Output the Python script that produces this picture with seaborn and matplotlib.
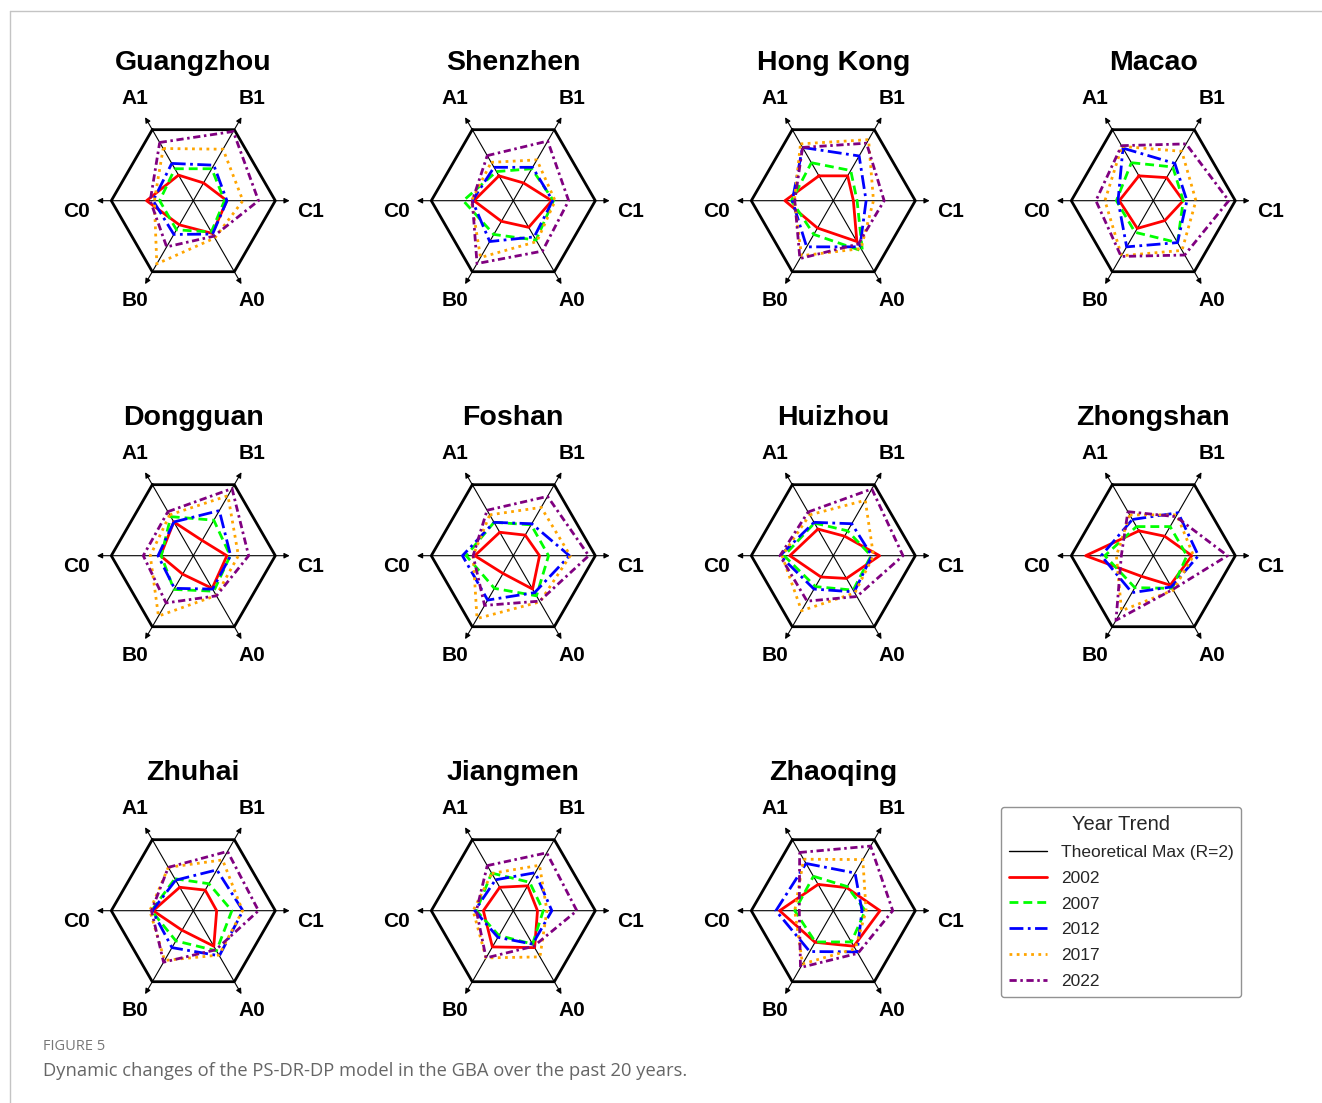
import numpy as np
import pandas as pd
import matplotlib
matplotlib.use("Agg")
import matplotlib.pyplot as plt
from matplotlib.lines import Line2D
import seaborn as sns

# ---- data -------------------------------------------------------------
categories = ["A1", "B1", "C1", "A0", "B0", "C0"]
angles_deg = [120, 60, 0, -60, -120, 180]
years = ["2002", "2007", "2012", "2017", "2022"]
R_MAX = 2.0

cities = ["Guangzhou", "Shenzhen", "Hong Kong", "Macao",
          "Dongguan", "Foshan", "Huizhou", "Zhongshan",
          "Zhuhai", "Jiangmen", "Zhaoqing"]

# rows: 2002, 2007, 2012, 2017, 2022 ; columns: A1, B1, C1, A0, B0, C0
guangzhou = [[0.72, 0.50, 0.82, 0.92, 0.68, 1.14],
             [0.90, 0.90, 0.76, 0.88, 0.82, 0.82],
             [1.05, 1.00, 0.82, 0.94, 0.95, 0.98],
             [1.47, 1.45, 1.21, 1.05, 1.78, 0.95],
             [1.64, 1.95, 1.59, 1.00, 1.30, 1.05]]
shenzhen = [[0.70, 0.50, 0.94, 0.75, 0.58, 0.96],
            [0.82, 0.90, 0.98, 1.11, 0.95, 1.22],
            [0.94, 0.94, 0.96, 1.02, 1.15, 1.00],
            [1.08, 1.15, 1.02, 1.15, 1.60, 1.02],
            [1.27, 1.68, 1.35, 1.42, 1.77, 1.00]]
hong_kong = [[0.70, 0.70, 0.49, 1.15, 0.77, 1.18],
             [1.07, 0.85, 0.58, 1.42, 0.95, 1.02],
             [1.50, 1.26, 0.80, 1.30, 1.30, 1.00],
             [1.60, 1.72, 0.98, 1.35, 1.55, 0.95],
             [1.50, 1.62, 1.24, 1.22, 1.63, 0.94]]
macao = [[0.70, 0.65, 0.73, 0.56, 0.78, 0.83],
         [1.07, 0.95, 0.73, 1.18, 0.89, 0.90],
         [1.48, 1.05, 0.82, 1.18, 1.30, 0.86],
         [1.53, 1.39, 1.04, 1.40, 1.55, 1.18],
         [1.55, 1.60, 1.84, 1.53, 1.57, 1.40]]
dongguan = [[0.95, 0.43, 0.82, 0.92, 0.52, 0.80],
            [1.10, 1.00, 0.90, 1.00, 0.95, 0.78],
            [0.95, 1.27, 0.91, 0.94, 0.92, 0.86],
            [1.15, 1.69, 1.10, 1.12, 1.70, 1.05],
            [1.24, 1.89, 1.35, 1.13, 1.33, 1.22]]
foshan = [[0.66, 0.58, 0.64, 0.94, 0.50, 0.94],
          [0.94, 0.87, 0.86, 1.13, 0.92, 1.15],
          [0.94, 0.90, 1.37, 1.04, 1.25, 1.24],
          [1.15, 1.36, 1.39, 1.30, 1.77, 0.98],
          [1.28, 1.67, 1.84, 1.28, 1.40, 0.98]]
huizhou = [[0.75, 0.55, 1.13, 0.64, 0.60, 1.06],
           [0.92, 0.70, 0.92, 0.97, 0.87, 1.20],
           [0.94, 0.90, 0.94, 1.02, 0.94, 1.30],
           [1.15, 1.56, 0.98, 1.05, 1.55, 1.25],
           [1.23, 1.88, 1.70, 1.15, 1.28, 1.30]]
zhongshan = [[0.70, 0.55, 0.94, 0.83, 0.58, 1.65],
             [0.82, 0.82, 0.82, 0.92, 0.90, 1.18],
             [1.02, 1.21, 1.10, 0.88, 1.04, 1.27],
             [1.15, 1.15, 0.98, 0.97, 1.55, 0.90],
             [1.24, 1.10, 1.81, 0.95, 1.82, 0.78]]
zhuhai = [[0.66, 0.58, 0.57, 1.00, 0.55, 0.98],
          [0.90, 0.76, 0.94, 1.13, 0.85, 1.02],
          [0.86, 1.15, 1.21, 1.27, 1.04, 1.00],
          [1.22, 1.43, 1.20, 1.25, 1.40, 1.06],
          [1.22, 1.67, 1.59, 1.10, 1.45, 1.02]]
jiangmen = [[0.66, 0.70, 0.59, 1.04, 1.02, 0.73],
            [1.06, 0.80, 0.73, 0.94, 0.70, 0.90],
            [0.87, 1.07, 0.94, 0.94, 0.75, 0.94],
            [1.05, 1.28, 0.82, 1.30, 1.33, 0.98],
            [1.27, 1.63, 1.55, 1.00, 1.33, 0.90]]
zhaoqing = [[0.74, 0.65, 1.14, 1.00, 0.89, 1.31],
            [0.97, 0.68, 0.78, 0.88, 0.88, 0.94],
            [1.33, 1.06, 0.70, 1.16, 1.15, 1.40],
            [1.45, 1.44, 0.80, 1.07, 1.50, 0.94],
            [1.64, 1.82, 1.45, 1.20, 1.60, 0.83]]

city_values = [guangzhou, shenzhen, hong_kong, macao, dongguan, foshan,
               huizhou, zhongshan, zhuhai, jiangmen, zhaoqing]

# ---- styles -----------------------------------------------------------
year_colors = ["red", "lime", "blue", "orange", "purple"]
year_styles = ["-", (0, (3.2, 1.8)), (0, (5, 1.6, 1, 1.6)),
               (0, (1, 1.6)), (0, (2.6, 1.3, 0.9, 1.3))]

sns.set_theme(style="white")
plt.rcParams["font.family"] = ["Liberation Sans", "DejaVu Sans"]

W, H = 1322, 1103
fig = plt.figure(figsize=(W / 100, H / 100), dpi=100)

PX_PER_UNIT = 41.0
HALF = 3.7
theta = np.deg2rad(angles_deg)


def long_form(values):
    rows = []
    for yi, yr in enumerate(years):
        r = list(values[yi]) + [values[yi][0]]
        th = list(theta) + [theta[0]]
        for k, (rv, tv) in enumerate(zip(r, th)):
            rows.append({"year": yr, "order": k,
                         "x": rv * np.cos(tv), "y": rv * np.sin(tv)})
    return pd.DataFrame(rows)


for idx, (city, vals) in enumerate(zip(cities, city_values)):
    row, col = divmod(idx, 4)
    cx = 193.3 + 320 * col
    cy = 200.7 + 355 * row
    half_px = HALF * PX_PER_UNIT
    ax = fig.add_axes([(cx - half_px) / W, 1 - (cy + half_px) / H,
                       2 * half_px / W, 2 * half_px / H])
    ax.set_xlim(-HALF, HALF)
    ax.set_ylim(-HALF, HALF)
    ax.set_aspect("equal")
    ax.axis("off")

    # hexagon at the theoretical maximum
    hx = R_MAX * np.cos(np.append(theta, theta[0]))
    hy = R_MAX * np.sin(np.append(theta, theta[0]))
    ax.plot(hx, hy, color="black", lw=2.0, zorder=2)

    # spokes with arrow heads
    for t in theta:
        ax.annotate("", xy=(2.35 * np.cos(t), 2.35 * np.sin(t)), xytext=(0, 0),
                    arrowprops=dict(arrowstyle="-|>", color="black", lw=0.8,
                                    mutation_scale=8, shrinkA=0, shrinkB=0),
                    zorder=1)

    # category labels
    for cat, t in zip(categories, theta):
        lx = 2.85 * np.cos(t)
        ly = 2.85 * np.sin(t)
        if abs(np.sin(t)) < 0.1:
            ly -= 0.27
        else:
            ly += 0.03 if np.sin(t) > 0 else 0.03
        ax.text(lx, ly, cat, ha="center", va="center", fontsize=15,
                fontweight="bold", color="black")

    ax.text(0, 3.37, city, ha="center", va="center", fontsize=20.5,
            fontweight="bold", color="black")

    df = long_form(vals)
    for yr, colr, ls in zip(years, year_colors, year_styles):
        sub = df[df["year"] == yr]
        sns.lineplot(data=sub, x="x", y="y", sort=False, estimator=None,
                     color=colr, linestyle=ls, lw=2, ax=ax, zorder=3)
    ax.set_xlabel("")
    ax.set_ylabel("")

# legend
handles = [Line2D([], [], color="black", lw=1.0)]
labels = ["Theoretical Max (R=2)"]
for yr, colr, ls in zip(years, year_colors, year_styles):
    handles.append(Line2D([], [], color=colr, linestyle=ls, lw=2))
    labels.append(yr)
leg = fig.legend(handles, labels, title="Year Trend", loc="upper left",
                 bbox_to_anchor=(1001 / W, 1 - 807 / H), borderaxespad=0,
                 fontsize=12.5, title_fontsize=14.5, frameon=True,
                 fancybox=True, edgecolor="#777777", labelspacing=0.62,
                 handlelength=2.2, borderpad=0.45)
leg.get_frame().set_linewidth(1.0)

# page frame lines and caption
fig.add_artist(Line2D([10 / W, 1], [1 - 11 / H, 1 - 11 / H],
                      transform=fig.transFigure, color="#c4c4c4", lw=1))
fig.add_artist(Line2D([10 / W, 10 / W], [0, 1 - 11 / H],
                      transform=fig.transFigure, color="#c4c4c4", lw=1))
fig.text(43 / W, 1 - 1047 / H, "FIGURE 5", ha="left", va="center",
         fontsize=10.5, color="#777777", family=["Open Sans", "DejaVu Sans"])
fig.text(43 / W, 1 - 1071 / H,
         "Dynamic changes of the PS-DR-DP model in the GBA over the past 20 years.",
         ha="left", va="center", fontsize=13.2, color="#666666",
         family=["Open Sans", "DejaVu Sans"])

fig.savefig("out.png", dpi=100, facecolor="white")
